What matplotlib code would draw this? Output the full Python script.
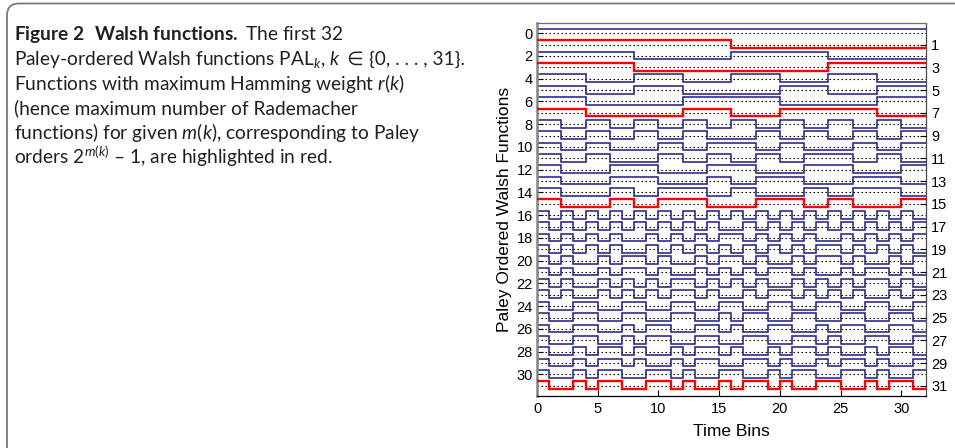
import numpy as np
import matplotlib
matplotlib.use("Agg")
import matplotlib.pyplot as plt
from matplotlib.patches import FancyBboxPatch

# Paley-ordered Walsh functions PAL_0 .. PAL_31 sampled on 32 time bins
# ('+' = +1, '-' = -1), grouped in blocks of four bins.
WALSH_ROWS = [
    "++++ ++++ ++++ ++++ ++++ ++++ ++++ ++++",  # 0
    "++++ ++++ ++++ ++++ ---- ---- ---- ----",  # 1
    "++++ ++++ ---- ---- ++++ ++++ ---- ----",  # 2
    "++++ ++++ ---- ---- ---- ---- ++++ ++++",  # 3
    "++++ ---- ++++ ---- ++++ ---- ++++ ----",  # 4
    "++++ ---- ++++ ---- ---- ++++ ---- ++++",  # 5
    "++++ ---- ---- ++++ ++++ ---- ---- ++++",  # 6
    "++++ ---- ---- ++++ ---- ++++ ++++ ----",  # 7
    "++-- ++-- ++-- ++-- ++-- ++-- ++-- ++--",  # 8
    "++-- ++-- ++-- ++-- --++ --++ --++ --++",  # 9
    "++-- ++-- --++ --++ ++-- ++-- --++ --++",  # 10
    "++-- ++-- --++ --++ --++ --++ ++-- ++--",  # 11
    "++-- --++ ++-- --++ ++-- --++ ++-- --++",  # 12
    "++-- --++ ++-- --++ --++ ++-- --++ ++--",  # 13
    "++-- --++ --++ ++-- ++-- --++ --++ ++--",  # 14
    "++-- --++ --++ ++-- --++ ++-- ++-- --++",  # 15
    "+-+- +-+- +-+- +-+- +-+- +-+- +-+- +-+-",  # 16
    "+-+- +-+- +-+- +-+- -+-+ -+-+ -+-+ -+-+",  # 17
    "+-+- +-+- -+-+ -+-+ +-+- +-+- -+-+ -+-+",  # 18
    "+-+- +-+- -+-+ -+-+ -+-+ -+-+ +-+- +-+-",  # 19
    "+-+- -+-+ +-+- -+-+ +-+- -+-+ +-+- -+-+",  # 20
    "+-+- -+-+ +-+- -+-+ -+-+ +-+- -+-+ +-+-",  # 21
    "+-+- -+-+ -+-+ +-+- +-+- -+-+ -+-+ +-+-",  # 22
    "+-+- -+-+ -+-+ +-+- -+-+ +-+- +-+- -+-+",  # 23
    "+--+ +--+ +--+ +--+ +--+ +--+ +--+ +--+",  # 24
    "+--+ +--+ +--+ +--+ -++- -++- -++- -++-",  # 25
    "+--+ +--+ -++- -++- +--+ +--+ -++- -++-",  # 26
    "+--+ +--+ -++- -++- -++- -++- +--+ +--+",  # 27
    "+--+ -++- +--+ -++- +--+ -++- +--+ -++-",  # 28
    "+--+ -++- +--+ -++- -++- +--+ -++- +--+",  # 29
    "+--+ -++- -++- +--+ +--+ -++- -++- +--+",  # 30
    "+--+ -++- -++- +--+ -++- +--+ +--+ -++-",  # 31
]

# Paley orders 2^m - 1 drawn in red
HIGHLIGHTED = [1, 3, 7, 15, 31]

TIME_EDGES = np.arange(33)
X_TICKS = [0, 5, 10, 15, 20, 25, 30]
LEFT_TICKS = [0, 2, 4, 6, 8, 10, 12, 14, 16, 18, 20, 22, 24, 26, 28, 30]
RIGHT_TICKS = [1, 3, 5, 7, 9, 11, 13, 15, 17, 19, 21, 23, 25, 27, 29, 31]

# caption lines, each a list of (text, font family) pieces
TEXT_FONT = "Lato"
SYMBOL_FONT = "DejaVu Sans"
CAPTION_LINES = [
    [(r"$\mathbf{Figure\ 2\ \ Walsh\ functions.}$ The first 32", TEXT_FONT)],
    [(r"Paley-ordered Walsh functions PAL$_{k}$, $k$", TEXT_FONT),
     (" ∈ ", SYMBOL_FONT),
     ("{0, . . . , 31}.", TEXT_FONT)],
    [(r"Functions with maximum Hamming weight $r(k)$", TEXT_FONT)],
    [(r"(hence maximum number of Rademacher", TEXT_FONT)],
    [(r"functions) for given $m(k)$, corresponding to Paley", TEXT_FONT)],
    [(r"orders 2$^{m(k)}$ – 1, are highlighted in red.", TEXT_FONT)],
]

AMP = 0.34          # half height of each square wave, in row units
CENTER_SHIFT = 0.04  # waves sit slightly above their dotted baseline

plt.rcParams["font.family"] = ["Liberation Sans", "DejaVu Sans"]
plt.rcParams["mathtext.fontset"] = "custom"
plt.rcParams["mathtext.rm"] = "Lato"
plt.rcParams["mathtext.it"] = "Lato:italic"
plt.rcParams["mathtext.bf"] = "Lato:bold"

fig = plt.figure(figsize=(9.55, 4.48), dpi=100)
renderer = fig.canvas.get_renderer()

# rounded panel border (open on the right and bottom edges)
frame = FancyBboxPatch((0.07, -1.0), 12.0, 4.445 + 1.0,
                       boxstyle="round,pad=0,rounding_size=0.12",
                       transform=fig.dpi_scale_trans, fill=False,
                       edgecolor="#7a7a7a", lw=1.3)
fig.add_artist(frame)

# caption, laid out piece by piece
fig_w = fig.get_figwidth() * fig.dpi
y0 = 1 - 40 / 448
for i, pieces in enumerate(CAPTION_LINES):
    x = 14 / 955
    for text, family in pieces:
        t = fig.text(x, y0 - i * 24.8 / 448, text, ha="left", va="baseline",
                     fontsize=13.8, family=family, color="#231f20")
        x = t.get_window_extent(renderer).x1 / fig_w

ax = fig.add_axes([537 / 955, 52 / 448, 388.5 / 955, 373 / 448])

for k, row in enumerate(WALSH_ROWS):
    vals = np.array([1.0 if c == "+" else -1.0 for c in row.replace(" ", "")])
    ax.plot([TIME_EDGES[0], TIME_EDGES[-1]], [k, k], color="black", lw=0.8,
            ls=(0, (1.4, 2.2)), zorder=1)
    red = k in HIGHLIGHTED
    ax.stairs(k - CENTER_SHIFT - AMP * vals, TIME_EDGES, baseline=None,
              color="#ff0000" if red else "#262680",
              lw=1.7 if red else 1.15, zorder=3 if red else 2)

ax.set_xlim(0, 32)
ax.set_ylim(31.9, -0.9)
ax.set_xticks(X_TICKS)
ax.set_yticks(LEFT_TICKS)
ax.tick_params(axis="both", direction="in", length=4, width=0.8,
               labelsize=10.5, pad=3, colors="black")
ax.tick_params(axis="x", pad=4)
ax.set_xlabel("Time Bins", fontsize=12.5, labelpad=6)
ax.set_ylabel("Paley Ordered Walsh Functions", fontsize=12.5, labelpad=3)

ax2 = ax.twinx()
ax2.set_ylim(ax.get_ylim())
ax2.set_yticks(RIGHT_TICKS)
ax2.tick_params(axis="y", direction="in", length=4, width=0.8,
                labelsize=10.5, pad=4)
for sp in ax2.spines.values():
    sp.set_visible(False)

ax.spines["left"].set_color("#858585")
ax.spines["left"].set_linewidth(1.8)
ax.spines["top"].set_color("#6e6e6e")
ax.spines["top"].set_linewidth(0.9)
ax.spines["right"].set_color("#4a4a4a")
ax.spines["right"].set_linewidth(0.9)
ax.spines["bottom"].set_color("black")
ax.spines["bottom"].set_linewidth(0.9)

fig.savefig("out.png", dpi=100)
